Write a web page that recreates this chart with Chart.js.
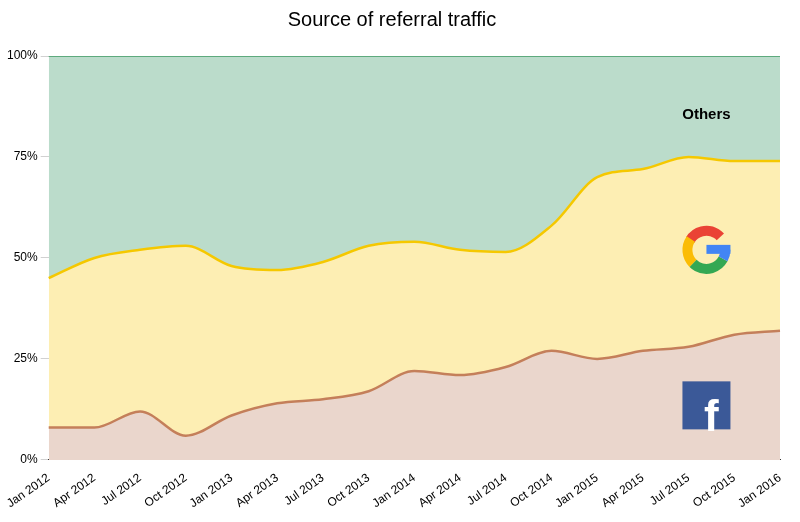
<!DOCTYPE html>
<html><head><meta charset="utf-8">
<script src="https://cdn.jsdelivr.net/npm/chart.js@4"></script>
<style>html,body{margin:0;background:#fff}#w{width:800px;height:522px}</style>
</head><body><div id="w"><canvas id="c"></canvas></div>
<script>
const labels=["Jan 2012","Apr 2012","Jul 2012","Oct 2012","Jan 2013","Apr 2013","Jul 2013","Oct 2013","Jan 2014","Apr 2014","Jul 2014","Oct 2014","Jan 2015","Apr 2015","Jul 2015","Oct 2015","Jan 2016"];
const facebook=[8,8,12,6,11,14,15,17,22,21,23,27,25,27,28,31,32];
const googleTop=[45,50,52,53,48,47,49,53,54,52,51.5,58,70,72,75,74,74];
const google=googleTop.map((t,i)=>t-facebook[i]);
const others=googleTop.map(t=>100-t);
const F='"Liberation Sans", Arial, sans-serif';
const icons={id:'icons',afterDatasetsDraw(ch){
 const c=ch.ctx,x=ch.scales.x,y=ch.scales.y;
 const cx=(x.getPixelForValue(15)+x.getPixelForValue(14))/2-5;
 c.save();
 c.font='bold 15px '+F;c.fillStyle='#000';c.textAlign='center';c.textBaseline='middle';
 c.fillText('Others',cx,y.getPixelForValue(85.5));
 const gy=y.getPixelForValue(52),r=19;c.lineWidth=10;
 const seg=[['#ea4335',-2.6,-0.75],['#fbbc05',2.35,3.75],['#34a853',0.5,2.35],['#4285f4',0,0.5]];
 seg.forEach(s=>{c.strokeStyle=s[0];c.beginPath();c.arc(cx,gy,r,s[1],s[2]);c.stroke();});
 c.fillStyle='#4285f4';c.fillRect(cx,gy-5,r+5,9);
 const fy=y.getPixelForValue(13.5),s=48;
 c.fillStyle='#3b5998';c.fillRect(cx-s/2,fy-s/2,s,s);
 c.fillStyle='#fff';c.font='bold 44px '+F;c.textBaseline='alphabetic';c.fillText('f',cx+5,fy+s/2+2);
 c.restore();}};
new Chart(document.getElementById('c'),{type:'line',
 data:{labels,datasets:[
  {data:facebook,fill:'origin',backgroundColor:'#ead6cc',borderColor:'#c47f5a',borderWidth:2.5},
  {data:google,fill:'-1',backgroundColor:'#fdeeb3',borderColor:'#f5c800',borderWidth:2.5},
  {data:others,fill:'-1',backgroundColor:'#bbdccb',borderColor:'#3f9a63',borderWidth:1.5}]},
 options:{responsive:true,maintainAspectRatio:false,animation:false,
  layout:{padding:{right:20,left:4,bottom:8}},
  elements:{point:{radius:0},line:{tension:0.4,cubicInterpolationMode:'monotone'}},
  plugins:{legend:{display:false},tooltip:{enabled:false},
   title:{display:true,text:'Source of referral traffic',color:'#000',font:{family:F,size:20,weight:'normal'},padding:{top:8,bottom:24}}},
  scales:{x:{grid:{display:false},border:{color:'#333'},ticks:{color:'#000',font:{family:F,size:12},maxRotation:35,minRotation:35,autoSkip:false}},
   y:{stacked:true,min:0,max:100,grid:{color:'rgba(0,0,0,0.18)'},border:{display:false},
    ticks:{stepSize:25,color:'#000',font:{family:F,size:12},callback:v=>v+'%'}}}},
 plugins:[icons]});
</script></body></html>
